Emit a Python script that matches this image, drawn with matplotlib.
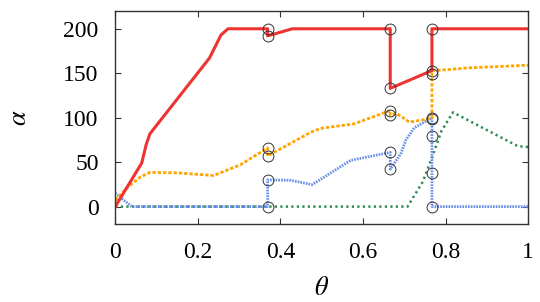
import numpy as np
import matplotlib
matplotlib.use('Agg')
import matplotlib.pyplot as plt

plt.rcParams['font.family'] = 'Liberation Serif'
plt.rcParams['mathtext.fontset'] = 'stix'

# curves (theta, alpha)
red_x = [0, 0.064, 0.075, 0.084, 0.228, 0.242, 0.256, 0.273, 0.369, 0.369, 0.429, 0.666, 0.666, 0.767, 0.767, 1.0]
red_y = [0, 49, 70, 82, 167, 180, 193, 200, 200, 192, 200, 200, 133, 153, 200, 200]

orange_x = [0, 0.03, 0.06, 0.084, 0.149, 0.238, 0.303, 0.369, 0.369, 0.473, 0.497, 0.578, 0.666, 0.666,
            0.68, 0.70, 0.712, 0.757, 0.767, 0.767, 0.805, 0.854, 1.0]
orange_y = [7, 22, 33, 38.5, 38, 35, 47, 66, 57, 83.5, 88, 93, 108, 103,
            105, 99, 95, 98.5, 100, 153, 154, 156, 159]

blue_x = [0, 0.04, 0.369, 0.369, 0.425, 0.477, 0.57, 0.666, 0.666, 0.692, 0.704, 0.724, 0.767, 0.767, 1.0]
blue_y = [15, 0, 0, 30, 29.6, 24.7, 52, 61, 42, 60, 75, 88.5, 100, 0, 0]

green_x = [0, 0.708, 0.745, 0.767, 0.79, 0.818, 0.975, 1.0]
green_y = [0, 0, 28, 55, 85, 106, 68, 67]

# circled points
circ_x = [0.369] * 6 + [0.666] * 6 + [0.767] * 8
circ_y = [200, 192, 66, 57, 30, 0,
          200, 133, 108, 103, 61, 42,
          200, 153, 149, 100, 98, 79, 38, 0]

fig = plt.figure(figsize=(5.4, 3.02), dpi=100)
ax = fig.add_axes([0.2135, 0.257, 0.7645, 0.7066])

ax.plot(green_x, green_y, color='#2e8b57', lw=1.8, linestyle=(0, (0.9, 1.3)))
ax.plot(blue_x, blue_y, color='#6a8fe8', lw=2.0, linestyle=(0, (0.6, 0.4)))
ax.plot(orange_x, orange_y, color='#ffa500', lw=2.0, linestyle=(0, (1.2, 0.7)))
ax.plot(red_x, red_y, color='#ee3333', lw=2.2)
ax.plot(circ_x, circ_y, 'o', mfc='none', mec='#333333', mew=0.7, ms=7.8)

ax.set_xlim(0, 1)
ax.set_ylim(-20, 220)
ax.set_xticks([0, 0.2, 0.4, 0.6, 0.8, 1])
ax.set_xticklabels(['0', '0.2', '0.4', '0.6', '0.8', '1'])
ax.set_yticks([0, 50, 100, 150, 200])
ax.tick_params(direction='in', top=True, right=True, labelsize=17, length=4, width=0.8, colors='#333333',
               labelcolor='black')
ax.tick_params(axis='x', pad=13)
ax.tick_params(axis='y', pad=12)
for s in ax.spines.values():
    s.set_color('#333333')
    s.set_linewidth(1.0)

ax.set_xlabel(r'$\theta$', fontsize=19, labelpad=10)
ax.set_ylabel(r'$\alpha$', fontsize=19, labelpad=23)

plt.savefig('out.png', dpi=100)
